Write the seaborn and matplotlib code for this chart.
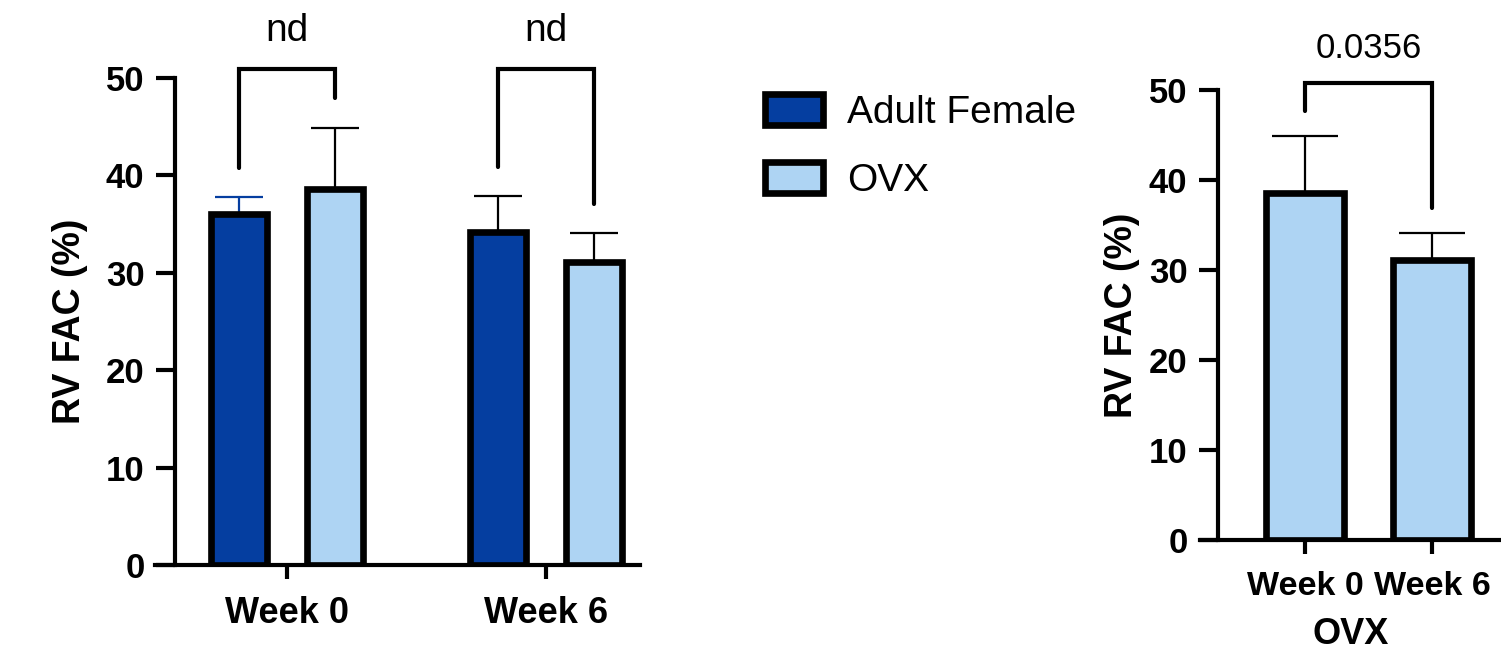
import pandas as pd
import matplotlib
matplotlib.use("Agg")
import matplotlib.pyplot as plt
from matplotlib.patches import Patch
import seaborn as sns

# data (mean and upper SD)
weeks = ["Week 0", "Week 6"]
groups = ["Adult Female", "OVX"]
adult_mean = [36.0, 34.2]
adult_err = [1.8, 3.7]
ovx_mean = [38.6, 31.1]
ovx_err = [6.3, 3.0]
pvalue_label = "0.0356"
nd_label = "nd"

DARK = "#053EA0"
LIGHT = "#AED4F3"

sns.set_style("ticks")
plt.rcParams["font.family"] = ["Liberation Sans", "DejaVu Sans"]
for key in ("text.color", "axes.labelcolor", "xtick.color", "ytick.color"):
    plt.rcParams[key] = "black"

df = pd.DataFrame({
    "week": weeks * 2,
    "group": [groups[0]] * 2 + [groups[1]] * 2,
    "value": adult_mean + ovx_mean,
})

fig = plt.figure(figsize=(15.01, 6.5), dpi=100)
ax1 = fig.add_axes([155 / 1501, 85 / 650, 485 / 1501, 487 / 650])
ax2 = fig.add_axes([1200 / 1501, 110 / 650, 301 / 1501, 450 / 650])

EDGE = 4.8
SPINE = 3.0


def style_axis(ax, xlim, spine_x, xsize):
    ax.set_xlim(*xlim)
    ax.set_ylim(0, 50)
    ax.set_yticks([0, 10, 20, 30, 40, 50])
    sns.despine(ax=ax)
    ax.spines["left"].set_position(("data", spine_x))
    ax.spines["left"].set_bounds(0, 50)
    for s in ("left", "bottom"):
        ax.spines[s].set_linewidth(SPINE)
        ax.spines[s].set_color("black")
    ax.tick_params(axis="both", width=SPINE, color="black")
    ax.tick_params(axis="y", labelsize=25, length=14, pad=8)
    ax.tick_params(axis="x", labelsize=xsize, length=10, pad=12)
    for lab in ax.get_xticklabels() + ax.get_yticklabels():
        lab.set_fontweight("bold")
    ax.set_ylabel("RV FAC (%)", fontsize=27, fontweight="bold")


def bracket(ax, x1, x2, y1, y2, top, text, ty, size):
    ax.plot([x1, x1, x2, x2], [y1, top, top, y2], color="black", lw=3,
            clip_on=False, solid_capstyle="round", solid_joinstyle="miter")
    ax.text((x1 + x2) / 2, ty, text, ha="center", va="center", fontsize=size,
            clip_on=False)


# left panel: grouped bars
sns.barplot(data=df, x="week", y="value", hue="group", hue_order=groups,
            palette=[DARK, LIGHT], saturation=1, width=0.744, gap=0.42,
            errorbar=None, edgecolor="black", linewidth=EDGE, legend=False,
            ax=ax1, zorder=3)

err_sets = [(adult_err, [DARK, "black"]), (ovx_err, ["black", "black"])]
centers = []
for cont, (errs, cols) in zip(ax1.containers, err_sets):
    row = []
    for bar, e, c in zip(cont.patches, errs, cols):
        cx = bar.get_x() + bar.get_width() / 2
        h = bar.get_height()
        ax1.errorbar(cx, h, yerr=[[0], [e]], color=c, lw=1.6, capsize=17,
                     capthick=1.6, zorder=2)
        row.append((cx, h))
    centers.append(row)

style_axis(ax1, (-0.5097, 1.363), -0.4324, 26)
ax1.set_xlabel("")
ax1.yaxis.set_label_coords(-0.138, 0.5)

for i in range(2):
    xa, _ = centers[0][i]
    xo, _ = centers[1][i]
    ya = [40.8, 40.9][i]
    yo = [47.9, 37.1][i]
    bracket(ax1, xa, xo, ya, yo, 50.9, nd_label, 54.8, 28)

# right panel: OVX only
sns.barplot(x=weeks, y=ovx_mean, color=LIGHT, saturation=1, width=0.62,
            errorbar=None, edgecolor="black", linewidth=EDGE, ax=ax2, zorder=3)
rc = []
for bar, e in zip(ax2.containers[0].patches, ovx_err):
    cx = bar.get_x() + bar.get_width() / 2
    ax2.errorbar(cx, bar.get_height(), yerr=[[0], [e]], color="black", lw=1.6,
                 capsize=24, capthick=1.6, zorder=2)
    rc.append(cx)

style_axis(ax2, (-0.827, 1.543), -0.685, 24.5)
ax2.set_xlabel("OVX", fontsize=26, fontweight="bold", labelpad=11)
ax2.yaxis.set_label_coords(-0.2, 0.5)
bracket(ax2, rc[0], rc[1], 47.7, 36.9, 50.8, pvalue_label, 54.6, 25)

# legend in the middle
handles = [Patch(facecolor=DARK, edgecolor="black", linewidth=EDGE),
           Patch(facecolor=LIGHT, edgecolor="black", linewidth=EDGE)]
fig.legend(handles, groups, loc="upper left",
           bbox_to_anchor=(765 / 1501, 1 - 94 / 650), frameon=False,
           fontsize=28, handlelength=1.5, handleheight=0.85,
           handletextpad=0.6, labelspacing=0.8, borderpad=0,
           borderaxespad=0)

fig.savefig("out.png", dpi=100)
